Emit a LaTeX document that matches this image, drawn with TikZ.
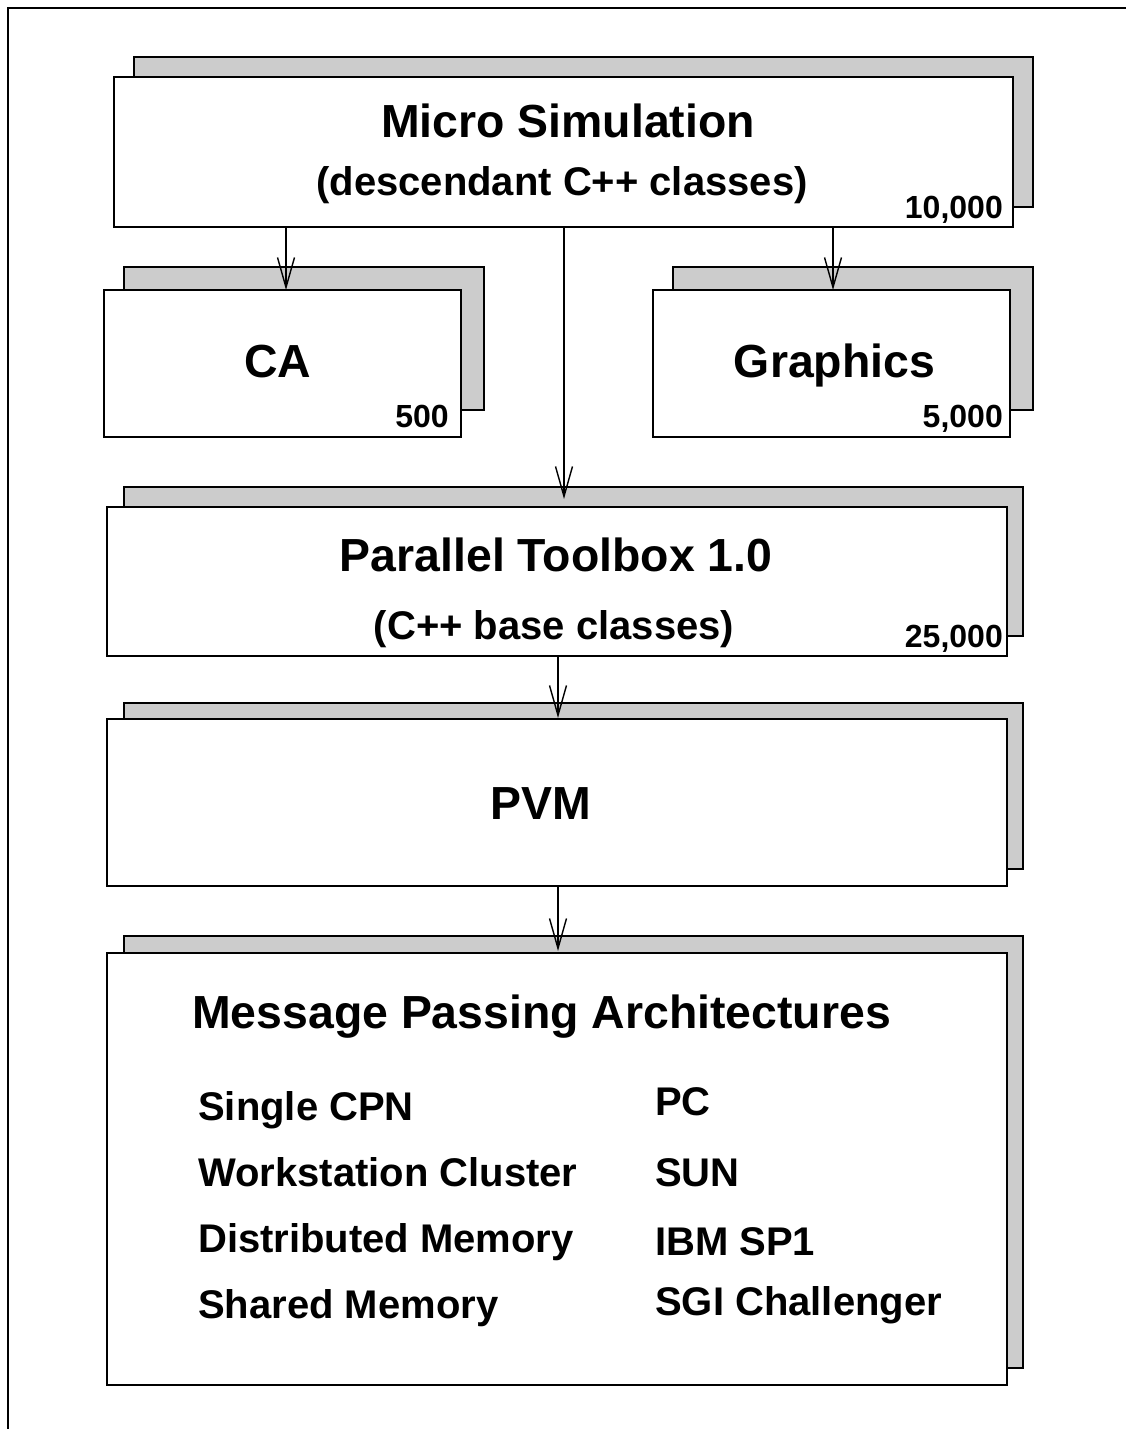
\documentclass[tikz,border=0pt]{standalone}
\usepackage{fontspec}
\setmainfont{Liberation Sans}
\usetikzlibrary{arrows.meta}
\definecolor{shade}{HTML}{CCCCCC}
\tikzset{
  panel/.style={draw=black, line width=1.6pt, fill=white, inner sep=0pt},
  backpanel/.style={draw=black, line width=1.6pt, fill=shade, inner sep=0pt},
  conn/.style={draw=black, line width=1.4pt, -{Straight Barb[length=30pt, width=17pt, line width=1.4pt]}},
  big/.style={font=\fontsize{46.4}{52}\selectfont\bfseries, inner sep=0pt},
  mid/.style={font=\fontsize{40}{46}\selectfont\bfseries, inner sep=0pt},
  small/.style={font=\fontsize{32}{38}\selectfont\bfseries, inner sep=0pt},
}
\begin{document}
\begin{tikzpicture}[x=1pt, y=-1pt]
\useasboundingbox (0,0) rectangle (1126,1429);

% page frame (top and left edges)
\draw[line width=1.6pt] (1126,8) -- (8,8) -- (8,1429);

% boxes with their grey shadows
\node[backpanel, minimum width=899pt, minimum height=150pt] (microS) at (583.5,132) {};
\node[panel, minimum width=899pt, minimum height=150pt] (micro) at (563.5,152) {};

\node[backpanel, minimum width=360pt, minimum height=143pt] (caS) at (304,338.5) {};
\node[panel, minimum width=357pt, minimum height=147pt] (ca) at (282.5,363.5) {};

\node[backpanel, minimum width=360pt, minimum height=143pt] (grS) at (853,338.5) {};
\node[panel, minimum width=357pt, minimum height=147pt] (gr) at (831.5,363.5) {};

\node[backpanel, minimum width=899pt, minimum height=149pt] (parS) at (573.5,561.5) {};
\node[panel, minimum width=900pt, minimum height=149pt] (par) at (557,581.5) {};

\node[backpanel, minimum width=899pt, minimum height=166pt] (pvmS) at (573.5,786) {};
\node[panel, minimum width=900pt, minimum height=167pt] (pvm) at (557,802.5) {};

\node[backpanel, minimum width=899pt, minimum height=432pt] (mpaS) at (573.5,1152) {};
\node[panel, minimum width=900pt, minimum height=432pt] (mpa) at (557,1169) {};

% texts
\node[big, anchor=base] (t1) at (568,137) {Micro Simulation};
\node[mid, anchor=base] (t2) at (562,195) {(descendant C++ classes)};
\node[small, anchor=base east] (n1) at (1003,218) {10,000};

\node[big, anchor=base] (t3) at (278,377) {CA};
\node[small, anchor=base east] (n2) at (449,427) {500};

\node[big, anchor=base] (t4) at (834.5,377) {Graphics};
\node[small, anchor=base east] (n3) at (1003,427) {5,000};

\node[big, anchor=base] (t5) at (556,571) {Parallel Toolbox 1.0};
\node[mid, anchor=base] (t6) at (554,639) {(C++ base classes)};
\node[small, anchor=base east] (n4) at (1003,647) {25,000};

\node[big, anchor=base] (t7) at (541,819) {PVM};

\node[big, anchor=base west] (t8) at (192,1028) {Message Passing Architectures};
\node[mid, anchor=base west] (a1) at (198,1120) {Single CPN};
\node[mid, anchor=base west] (a2) at (198,1186) {Workstation Cluster};
\node[mid, anchor=base west] (a3) at (198,1252) {Distributed Memory};
\node[mid, anchor=base west] (a4) at (198,1318) {Shared Memory};
\node[mid, anchor=base west] (b1) at (655,1115) {PC};
\node[mid, anchor=base west] (b2) at (655,1186) {SUN};
\node[mid, anchor=base west] (b3) at (655,1255) {IBM SP1};
\node[mid, anchor=base west] (b4) at (655,1315) {SGI Challenger};

% connectors
\coordinate (caIn) at (286,290);
\coordinate (grIn) at (833,290);
\coordinate (parIn) at (564,499);
\coordinate (pvmIn) at (558,718);
\coordinate (mpaIn) at (558,951);
\draw[conn] (micro.south -| caIn) -- (caIn);
\draw[conn] (micro.south -| grIn) -- (grIn);
\draw[conn] (micro.south -| parIn) -- (parIn);
\draw[conn] (par.south -| pvmIn) -- (pvmIn);
\draw[conn] (pvm.south -| mpaIn) -- (mpaIn);
\end{tikzpicture}
\end{document}
